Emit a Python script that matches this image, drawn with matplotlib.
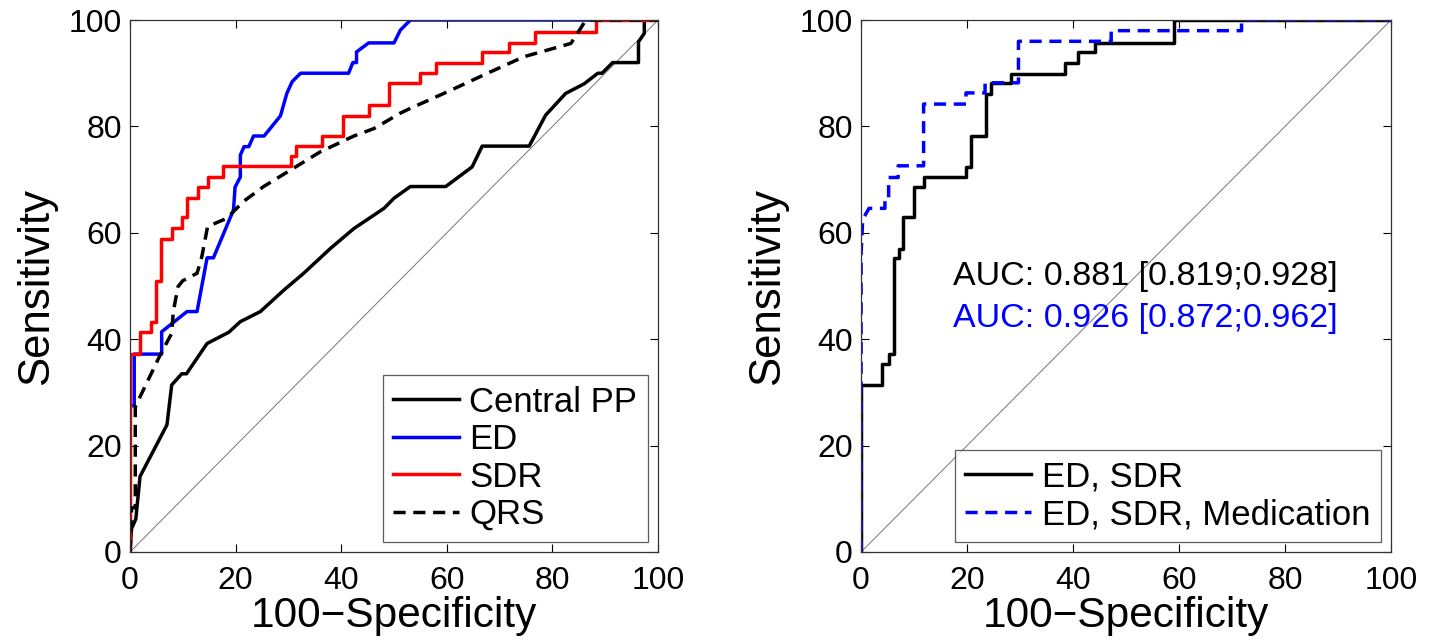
import numpy as np
import matplotlib.pyplot as plt

plt.rcParams['font.family'] = ['Liberation Sans', 'DejaVu Sans']

# left panel: ROC curves (100-specificity, sensitivity)
pp_x = [0, 0.3, 1.1, 1.9, 7, 7.9, 9.8, 10.7, 14.6, 18.7, 20.9, 24.7, 29.1, 32.9, 38, 42.4, 48.1, 50,
        53.1, 59.8, 64.8, 66.7, 75.6, 78.7, 82.5, 86, 88.6, 89.4, 91.4, 96.3, 96.3, 97.4, 97.4, 100]
pp_y = [0, 4.4, 6.2, 14.2, 23.9, 31.4, 33.5, 33.5, 39.2, 41.3, 43.3, 45.2, 49.2, 52.4, 57.1, 60.8, 64.6, 66.5,
        68.7, 68.7, 72.4, 76.3, 76.3, 82.1, 86.2, 88, 90, 90, 92, 92, 95.9, 97.5, 100, 100]

ed_x = [0, 0, 0.8, 0.8, 6, 6, 10.8, 12.7, 14.6, 15.8, 19.6, 19.9, 20.9, 20.9, 21.6, 22.5, 23.4, 25.4,
        28.5, 29.7, 30.7, 32.3, 41.4, 42.2, 42.9, 42.9, 45.2, 50, 51.2, 53.1, 100]
ed_y = [0, 27.5, 27.5, 37.2, 37.2, 41.4, 45.2, 45.2, 55.3, 55.3, 64.3, 68.6, 70.5, 74.6, 76.2, 76.2, 78.2, 78.2,
        82, 86.2, 88.4, 90, 90, 92, 92, 94, 95.7, 95.7, 98.1, 100, 100]

sdr_x = [0, 0, 1.9, 1.9, 4, 4, 4.9, 4.9, 5.8, 5.8, 7.9, 7.9, 9.8, 9.8, 10.8, 10.8, 12.8, 12.8, 14.7, 14.7,
         17.7, 17.7, 30.5, 30.5, 31.4, 31.4, 36.4, 36.4, 40.4, 40.4, 45.2, 45.2, 49, 49, 55, 55, 57.9, 57.9,
         66.6, 66.6, 71.8, 71.8, 76.7, 76.7, 88.2, 88.2, 100]
sdr_y = [0, 37.2, 37.2, 41.4, 41.4, 43.3, 43.3, 51, 51, 58.8, 58.8, 60.9, 60.9, 63, 63, 66.6, 66.6, 68.7,
         68.7, 70.5, 70.5, 72.6, 72.6, 74.4, 74.4, 76.3, 76.3, 78.2, 78.2, 82, 82, 84.1, 84.1, 88.2, 88.2, 90,
         90, 92, 92, 94, 94, 95.7, 95.7, 97.8, 97.8, 100, 100]

qrs_x = [0, 0.3, 1, 1, 5.7, 7.9, 8.2, 9.1, 10, 10.8, 12.7, 13.6, 14.7, 16.4, 18.3, 21.5, 25.3, 30.4, 36,
         42.4, 46.2, 51.2, 53.1, 60.1, 67.7, 74.6, 83.5, 85.7, 86.3, 100]
qrs_y = [0, 8.3, 8.3, 27.3, 37, 41.1, 45.2, 49.9, 51, 51.4, 52.4, 55.5, 61.2, 61.9, 62.7, 65.9, 68.7, 71.8,
         75.2, 78.2, 79.6, 82.5, 83.4, 86.5, 90, 93.1, 95.6, 99, 100, 100]

# right panel: combined models
m1_x = [0, 0, 4, 4, 5.2, 5.2, 6.3, 6.3, 7.2, 7.2, 7.9, 7.9, 9.9, 9.9, 11.9, 11.9, 19.8, 19.8, 20.8, 20.8,
        23.5, 23.5, 24.5, 24.5, 28.3, 28.3, 38.5, 38.5, 41, 41, 44.2, 44.2, 59, 59, 100]
m1_y = [0, 31.4, 31.4, 35.3, 35.3, 37.2, 37.2, 55.2, 55.2, 56.9, 56.9, 62.9, 62.9, 68.7, 68.7, 70.4, 70.4,
        72.4, 72.4, 78.2, 78.2, 86.1, 86.1, 88.2, 88.2, 89.9, 89.9, 92, 92, 94, 94, 95.7, 95.7, 100, 100]

m2_x = [0, 0, 0.3, 1.5, 4.5, 4.5, 5.2, 5.2, 7, 7, 11.8, 11.8, 19.8, 19.8, 23.4, 23.4, 25.3, 25.3, 29.7, 29.7,
        47.2, 47.2, 71.8, 71.8, 100]
m2_y = [0, 56, 62.5, 64.6, 64.6, 66.5, 66.5, 70.4, 70.4, 72.6, 72.6, 84.2, 84.2, 86.3, 86.3, 88.2, 88.2, 88.2,
        88.2, 96, 96, 98, 98, 100, 100]

auc1 = 'AUC: 0.881 [0.819;0.928]'
auc2 = 'AUC: 0.926 [0.872;0.962]'

fig = plt.figure(figsize=(14.38, 6.42), dpi=100)
ax1 = fig.add_axes([0.0904, 0.1402, 0.3672, 0.8286])
ax2 = fig.add_axes([0.5988, 0.1402, 0.3685, 0.8286])

lw = 2.5
dash = (0, (3.5, 2.2))
for ax in (ax1, ax2):
    ax.plot([0, 100], [0, 100], color='#777777', lw=0.7)

ax1.plot(pp_x, pp_y, color='k', lw=lw, label='Central PP')
ax1.plot(ed_x, ed_y, color='#0000ff', lw=lw, label='ED')
ax1.plot(sdr_x, sdr_y, color='#ff0000', lw=lw, label='SDR')
ax1.plot(qrs_x, qrs_y, color='k', lw=lw, ls=dash, label='QRS')

ax2.plot(m1_x, m1_y, color='k', lw=lw, label='ED, SDR')
ax2.plot(m2_x, m2_y, color='#0000ff', lw=lw, ls=dash, label='ED, SDR, Medication')

ax2.text(17.4, 50.2, auc1, color='k', fontsize=24.5)
ax2.text(17.4, 42.3, auc2, color='#0000ff', fontsize=24.5)

for ax in (ax1, ax2):
    ax.set_xlim(0, 100)
    ax.set_ylim(0, 100)
    ax.set_xticks(np.arange(0, 101, 20))
    ax.set_yticks(np.arange(0, 101, 20))
    ax.tick_params(direction='in', top=True, right=True, labelsize=23, length=6, width=0.8)
    ax.tick_params(axis='x', pad=10)
    ax.tick_params(axis='y', pad=6)
    ax.set_xlabel('100\u2212Specificity', fontsize=30.5, labelpad=0)
    ax.set_ylabel('Sensitivity', fontsize=31.5, labelpad=8)
    for s in ax.spines.values():
        s.set_color('#333333')
        s.set_linewidth(0.9)
    leg = ax.legend(loc='lower right', fontsize=25, frameon=True, fancybox=False, edgecolor='#333333',
                    handlelength=1.9, handletextpad=0.3, labelspacing=0.13, borderpad=0.3,
                    borderaxespad=0.3)
    leg.get_frame().set_linewidth(0.9)

fig.savefig('out.png', dpi=100)
